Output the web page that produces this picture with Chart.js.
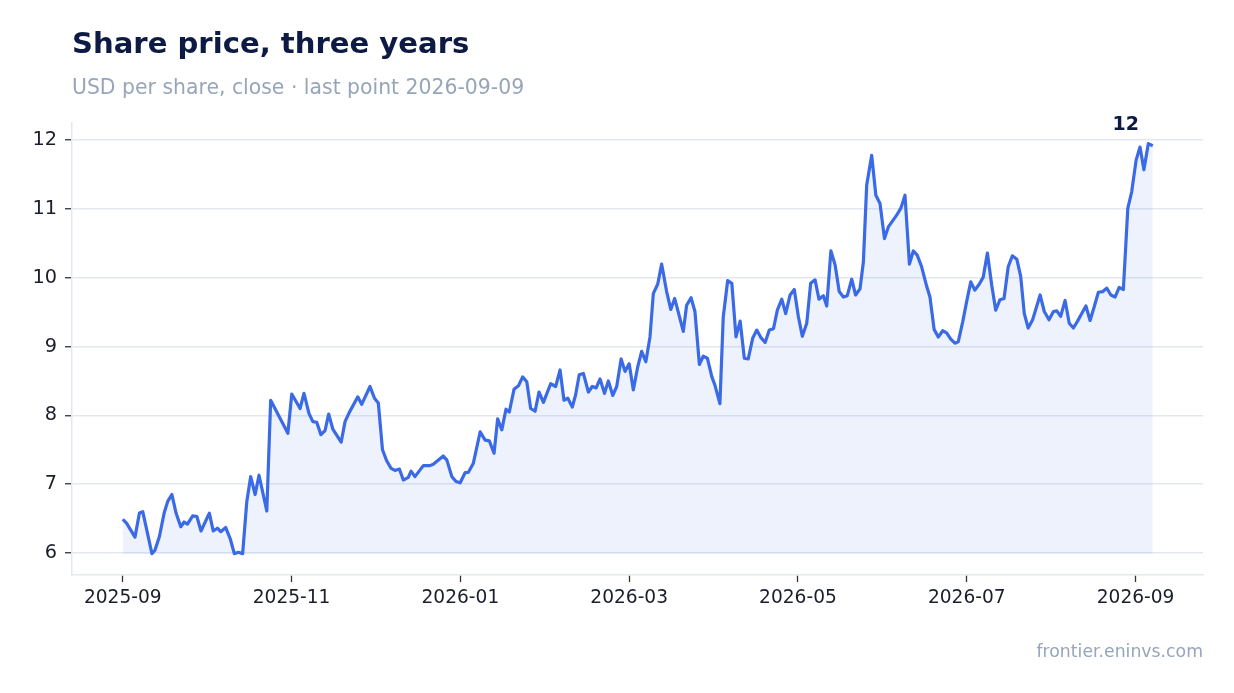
<!DOCTYPE html>
<html>
<head>
<meta charset="utf-8">
<script src="https://cdn.jsdelivr.net/npm/chart.js@4/dist/chart.umd.min.js"></script>
<style>
  body { margin: 0; background: #fff; font-family: "DejaVu Sans", sans-serif; }
  #wrap { position: relative; width: 1234px; height: 693px; }
  #my_Canvas { position: absolute; left: 0; top: 0; }
  .title { position: absolute; left: 72px; top: 28.8px; font-size: 29.1px; line-height: 29.1px; font-weight: bold; color: #0c1a44; white-space: nowrap; }
  .sub { position: absolute; left: 72px; top: 76.7px; font-size: 20.4px; line-height: 20.4px; color: #97a5ba; white-space: nowrap; }
  .foot { position: absolute; right: 31px; top: 643.3px; font-size: 17.3px; line-height: 17.3px; color: #97a5ba; white-space: nowrap; }
</style>
</head>
<body>
<div id="wrap">
  <canvas id="my_Canvas" width="1234" height="693"></canvas>
  <div class="title">Share price, three years</div>
  <div class="sub">USD per share, close · last point 2026-09-09</div>
  <div class="foot">frontier.eninvs.com</div>
</div>
<script>
// days after 2025-09-01
var days = [0,1.4,4.4,6.0,7.2,10.5,11.6,13.2,14.9,16.2,17.7,19.2,20.9,22.1,23.3,25.2,26.7,28.2,31.2,32.6,34.1,35.3,37.1,38.7,40.2,41.7,43.2,44.7,46.1,47.7,49.1,51.9,
  53.3,59.5,60.9,63.9,65.3,67.1,68.5,69.9,71.4,72.9,74.2,75.7,78.7,80.1,81.6,84.7,86.1,89.1,90.7,92.1,93.6,95.1,96.7,98.1,99.7,101.1,102.9,
  103.9,105.3,108.3,110.7,111.9,115.5,116.8,118.6,120.1,121.6,123.4,124.5,126.3,128.8,130.6,132.1,133.8,135.1,136.6,138.1,139.3,141.0,142.6,144.1,145.6,147.0,148.6,150.0,151.6,154.2,156.0,157.6,159.0,160.4,162.0,
  163.2,164.5,166.0,167.8,169.2,170.6,172.0,173.6,175.0,176.6,178.0,179.6,181.0,182.5,184.0,185.6,187.0,188.5,190.0,191.2,192.8,194.2,196.0,197.5,198.9,202.0,203.2,204.8,206.2,207.8,
  209.2,210.7,212.3,213.4,215.2,216.4,218.0,219.5,221.0,222.5,224.0,225.4,227.0,228.5,230.0,231.5,233.0,234.5,235.9,237.5,238.9,240.5,242.0,243.5,244.9,246.5,247.9,249.5,250.9,252.5,253.7,
  255.2,256.7,258.2,259.7,261.1,262.7,264.1,265.7,266.9,268.1,269.9,271.4,272.9,274.5,275.9,277.5,278.9,280.5,281.9,283.5,284.9,286.3,287.9,289.7,290.9,292.4,293.9,295.5,296.9,
  298.4,299.9,301.1,302.7,304.1,305.6,307.1,308.7,310.1,311.6,313.2,314.6,316.1,317.6,319.1,320.6,322.2,323.6,324.9,326.3,327.9,330.6,332.1,333.8,335.4,336.6,338.0,339.6,
  341.1,342.6,344.1,345.6,347.1,348.6,350.1,351.6,353.2,354.6,356.1,357.6,359.1,360.6,362.2,363.6,365.2,366.6,368.0,369.6,371.2];

var closes = [6.49,6.43,6.23,6.58,6.60,5.99,6.04,6.24,6.58,6.75,6.85,6.58,6.38,6.45,6.42,6.54,6.53,6.32,6.58,6.32,6.36,6.31,6.37,6.21,5.99,6.01,5.99,6.75,7.11,6.85,7.13,6.61,
  8.22,7.74,8.31,8.10,8.32,8.03,7.91,7.90,7.72,7.78,8.02,7.80,7.61,7.91,8.04,8.27,8.16,8.42,8.25,8.18,7.50,7.34,7.23,7.20,7.22,7.06,7.10,
  7.19,7.11,7.27,7.27,7.29,7.41,7.35,7.11,7.04,7.02,7.17,7.17,7.30,7.76,7.64,7.63,7.45,7.95,7.79,8.09,8.05,8.38,8.43,8.56,8.49,8.10,8.06,8.34,8.19,8.46,8.42,8.66,8.22,8.25,8.12,
  8.30,8.59,8.61,8.34,8.42,8.40,8.53,8.32,8.50,8.29,8.42,8.82,8.64,8.75,8.37,8.71,8.93,8.78,9.14,9.77,9.91,10.20,9.80,9.54,9.70,9.22,9.60,9.71,9.51,8.74,
  8.86,8.83,8.56,8.44,8.17,9.43,9.96,9.92,9.14,9.37,8.83,8.82,9.12,9.24,9.13,9.06,9.24,9.26,9.53,9.69,9.48,9.75,9.83,9.43,9.15,9.34,9.92,9.97,9.69,9.74,9.59,
  10.39,10.19,9.80,9.72,9.74,9.98,9.75,9.84,10.23,11.35,11.78,11.20,11.08,10.57,10.74,10.83,10.91,11.02,11.20,10.20,10.39,10.33,10.16,9.88,9.72,9.25,9.14,9.23,9.20,
  9.11,9.05,9.07,9.36,9.65,9.94,9.82,9.91,10.01,10.36,9.88,9.53,9.68,9.70,10.16,10.32,10.27,10.02,9.48,9.27,9.39,9.75,9.51,9.39,9.51,9.52,9.44,9.67,
  9.34,9.27,9.37,9.48,9.59,9.38,9.58,9.79,9.80,9.85,9.75,9.72,9.86,9.83,11.01,11.25,11.71,11.90,11.57,11.95,11.92];

var tickDays = [0, 60.83, 121.67, 182.5, 243.33, 304.17, 365];
var tickLabels = ['2025-09','2025-11','2026-01','2026-03','2026-05','2026-07','2026-09'];
var yTicks = [6, 7, 8, 9, 10, 11, 12];

var gridColor = '#e3e8f0';
var lineBlue = '#3b6ae6';

// label with the last close, drawn above the end of the line
var lastLabel = {
    id: 'lastLabel',
    afterDatasetsDraw: function(chart){
        var meta = chart.getDatasetMeta(0);
        var p = meta.data[meta.data.length - 1];
        var ctx = chart.ctx;
        ctx.save();
        ctx.font = 'bold 19px "DejaVu Sans"';
        ctx.fillStyle = '#0c1a44';
        ctx.textAlign = 'center';
        ctx.textBaseline = 'middle';
        ctx.fillText(String(Math.round(closes[closes.length - 1])), p.x - 27, p.y - 20.5);
        ctx.restore();
    }
};

var points = days.map(function(d, i){ return {x: d, y: closes[i]}; });

var canvas = document.getElementById('my_Canvas').getContext('2d');
var myChart = new Chart(canvas, {
    type: 'line',
    data: {
        datasets: [{
            data: points,
            borderColor: lineBlue,
            borderWidth: 3.2,
            backgroundColor: 'rgba(59,106,230,0.09)',
            fill: {value: Math.min.apply(null, closes)},
            pointRadius: 0,
            tension: 0,
            borderJoinStyle: 'round'
        }]
    },
    options: {
        responsive: false,
        animation: false,
        devicePixelRatio: 1,
        layout: {padding: {left: 0, right: 31, top: 123, bottom: 78}},
        plugins: {legend: {display: false}, tooltip: {enabled: false}},
        scales: {
            x: {
                type: 'linear',
                min: -18.3,
                max: 389.3,
                afterBuildTicks: function(scale){
                    scale.ticks = tickDays.map(function(v){ return {value: v}; });
                },
                afterFit: function(scale){ scale.height = 40; },
                ticks: {
                    autoSkip: false,
                    maxRotation: 0,
                    padding: 5,
                    color: '#1a1e2c',
                    font: {family: 'DejaVu Sans', size: 18.6},
                    callback: function(v){ return tickLabels[tickDays.indexOf(v)]; }
                },
                grid: {drawOnChartArea: false, drawTicks: true, tickLength: 7, tickColor: '#333', tickWidth: 1.3},
                border: {color: gridColor, width: 1.5}
            },
            y: {
                min: 5.68,
                max: 12.25,
                afterBuildTicks: function(scale){
                    scale.ticks = yTicks.map(function(v){ return {value: v}; });
                },
                afterFit: function(scale){ scale.width = 72; },
                ticks: {
                    padding: 8,
                    color: '#1a1e2c',
                    font: {family: 'DejaVu Sans', size: 19.3}
                },
                grid: {color: gridColor, lineWidth: 1.5, tickLength: 7, tickColor: '#333', tickWidth: 1.3},
                border: {color: gridColor, width: 1.5}
            }
        }
    },
    plugins: [lastLabel]
});
</script>
</body>
</html>
